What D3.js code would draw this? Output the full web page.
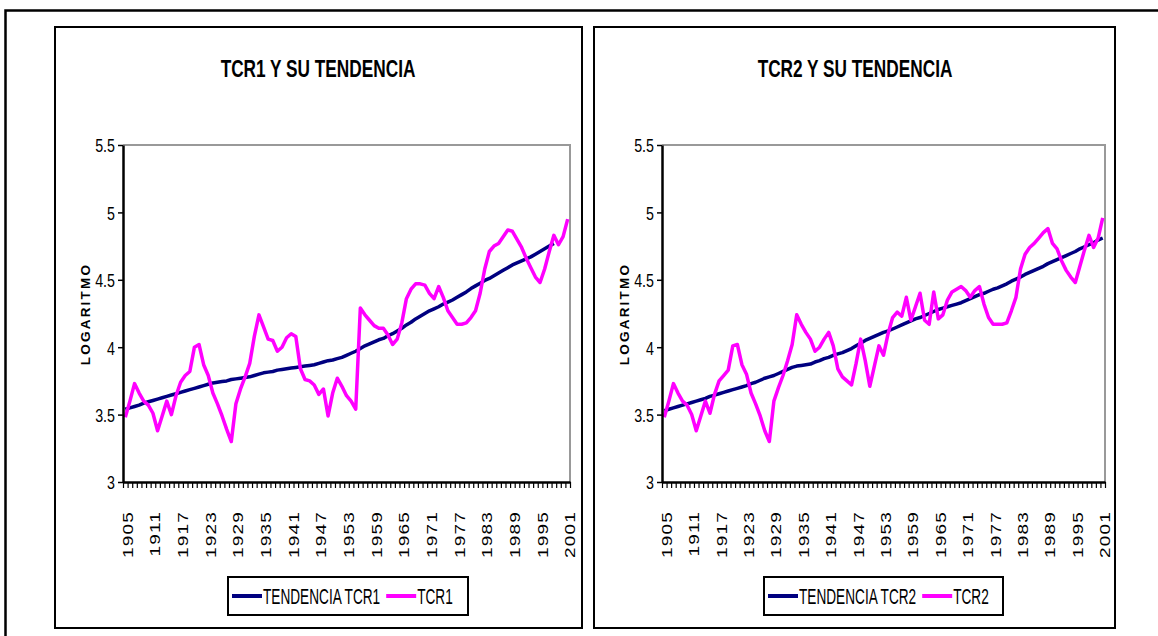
<!DOCTYPE html>
<html><head><meta charset="utf-8">
<script src="https://cdn.jsdelivr.net/npm/d3@7"></script>
<style>html,body{margin:0;padding:0;background:#fff;overflow:hidden}</style>
</head><body><svg id="c" width="1158" height="636"></svg>
<script>
const years = d3.range(1905, 2002).map(String);
const xLabels = ["1905","1911","1917","1923","1929","1935","1941","1947","1953","1959","1965","1971","1977","1983","1989","1995","2001"];
const yTicks = [3, 3.5, 4, 4.5, 5, 5.5];

const tcr1 = [3.48,3.60,3.73,3.66,3.60,3.57,3.51,3.38,3.49,3.60,
 3.50,3.64,3.74,3.79,3.82,4.00,4.02,3.87,3.79,3.66,
 3.58,3.49,3.39,3.30,3.58,3.69,3.78,3.88,4.08,4.24,
 4.15,4.06,4.05,3.97,4.00,4.07,4.10,4.08,3.84,3.76,
 3.75,3.72,3.65,3.69,3.49,3.66,3.77,3.71,3.64,3.60,
 3.54,4.29,4.24,4.20,4.16,4.14,4.14,4.09,4.02,4.06,
 4.18,4.36,4.43,4.47,4.47,4.46,4.40,4.36,4.45,4.37,
 4.27,4.22,4.17,4.17,4.18,4.22,4.27,4.40,4.58,4.71,
 4.75,4.77,4.82,4.87,4.86,4.80,4.74,4.66,4.59,4.52,
 4.48,4.58,4.71,4.83,4.76,4.82,4.95];

const trend1 = [3.54,3.55,3.56,3.57,3.585,3.595,3.605,3.615,3.625,3.635,
 3.645,3.655,3.665,3.675,3.685,3.695,3.705,3.715,3.725,3.735,
 3.74,3.745,3.75,3.76,3.765,3.77,3.775,3.78,3.79,3.80,
 3.81,3.815,3.82,3.83,3.835,3.84,3.845,3.85,3.855,3.86,
 3.865,3.87,3.88,3.89,3.90,3.905,3.915,3.925,3.94,3.955,
 3.97,3.99,4.01,4.025,4.04,4.055,4.065,4.085,4.10,4.12,
 4.14,4.165,4.185,4.21,4.23,4.25,4.27,4.285,4.30,4.32,
 4.335,4.35,4.37,4.39,4.41,4.435,4.455,4.475,4.495,4.51,
 4.53,4.55,4.57,4.59,4.61,4.625,4.64,4.655,4.67,4.69,
 4.71,4.73,4.75,4.77,null,null,null];

const tcr2 = [3.48,3.60,3.73,3.66,3.60,3.57,3.50,3.38,3.49,3.60,
 3.51,3.65,3.75,3.79,3.83,4.01,4.02,3.87,3.80,3.66,
 3.58,3.49,3.38,3.30,3.60,3.70,3.79,3.90,4.02,4.24,
 4.17,4.11,4.06,3.97,4.00,4.06,4.11,4.01,3.84,3.78,
 3.75,3.72,3.88,4.06,3.90,3.71,3.86,4.01,3.94,4.10,
 4.22,4.26,4.23,4.37,4.20,4.30,4.40,4.20,4.17,4.41,
 4.21,4.24,4.35,4.41,4.43,4.45,4.42,4.37,4.42,4.45,
 4.32,4.22,4.17,4.17,4.17,4.18,4.27,4.37,4.58,4.69,
 4.74,4.77,4.81,4.85,4.88,4.77,4.73,4.64,4.57,4.52,
 4.48,4.60,4.72,4.83,4.74,4.81,4.96];

const trend2 = [3.53,3.54,3.55,3.56,3.57,3.58,3.59,3.60,3.61,3.62,
 3.635,3.645,3.655,3.665,3.675,3.685,3.695,3.705,3.715,3.73,
 3.74,3.755,3.77,3.78,3.79,3.805,3.82,3.835,3.85,3.86,
 3.865,3.87,3.875,3.89,3.90,3.915,3.925,3.94,3.95,3.96,
 3.975,3.99,4.01,4.03,4.05,4.065,4.08,4.095,4.11,4.12,
 4.135,4.15,4.165,4.18,4.195,4.21,4.22,4.235,4.25,4.265,
 4.28,4.29,4.30,4.31,4.32,4.33,4.345,4.36,4.375,4.39,
 4.40,4.415,4.43,4.44,4.455,4.47,4.49,4.505,4.52,4.54,
 4.555,4.57,4.585,4.60,4.62,4.635,4.65,4.665,4.68,4.695,
 4.71,4.73,4.745,4.76,4.775,4.795,4.81];

const FONT = "'Liberation Sans', Arial, sans-serif";
const SX = 0.75;
const NAVY = "#000080", MAG = "#FF00FF";

const svg = d3.select("#c");
// outer frame
svg.append("rect").attr("x",5.5).attr("y",10.5).attr("width",1300).attr("height",800)
  .attr("fill","none").attr("stroke","#000").attr("stroke-width",2.5);

function chart(cfg) {
  const g = svg.append("g");
  g.append("rect").attr("x",cfg.box[0]).attr("y",cfg.box[1]).attr("width",cfg.box[2]).attr("height",cfg.box[3])
    .attr("fill","#fff").attr("stroke","#000").attr("stroke-width",2);

  const x0 = cfg.plot[0], x1 = cfg.plot[1], yT = 145, yB = 482;
  const x = d3.scaleBand().domain(years).range([x0, x1]);
  const xi = d3.scaleLinear().domain([0, years.length]).range([x0, x1]);
  const y = d3.scaleLinear().domain([3, 5.5]).range([yB, yT]);
  const px = d => x(d) + x.bandwidth()/2;

  // title
  g.append("text").attr("transform",`translate(${cfg.titleX},77) scale(${SX},1)`)
    .attr("text-anchor","middle").attr("font-family",FONT).attr("font-weight","bold")
    .attr("font-size",23).text(cfg.title);

  // plot border (gray top & right)
  g.append("path").attr("d",`M${x0},${yT}H${x1}V${yB}`).attr("fill","none")
    .attr("stroke","#999").attr("stroke-width",2);

  // series lines
  const line = d3.line().defined(d => d[1] != null).x(d => px(d[0])).y(d => y(d[1]));
  g.append("path").datum(years.map((yr,i)=>[yr, cfg.trend[i]])).attr("d",line)
    .attr("fill","none").attr("stroke",NAVY).attr("stroke-width",3.5).attr("stroke-linejoin","round");
  g.append("path").datum(years.map((yr,i)=>[yr, cfg.series[i]])).attr("d",line)
    .attr("fill","none").attr("stroke",MAG).attr("stroke-width",3.5).attr("stroke-linejoin","round");

  // y axis
  const ya = g.append("g").attr("transform",`translate(${x0},0)`)
    .call(d3.axisLeft(y).tickValues(yTicks).tickSize(5).tickSizeOuter(0).tickFormat(d3.format("")));
  ya.select(".domain").attr("stroke-width",2.5);
  ya.selectAll(".tick line").attr("stroke-width",1.5);
  ya.selectAll(".tick text").attr("font-family",FONT).attr("font-size",19).attr("fill","#000")
    .attr("x",-8/SX).attr("dy","0.36em").attr("transform",`scale(${SX},1)`);

  // x axis ticks between categories
  const xa = g.append("g").attr("transform",`translate(0,${yB})`)
    .call(d3.axisBottom(xi).tickValues(d3.range(0, years.length+1)).tickSize(6).tickSizeOuter(0).tickFormat(""));
  xa.select(".domain").attr("stroke-width",2.5);
  xa.selectAll(".tick line").attr("stroke-width",1.2);

  // x labels
  const xl = g.append("g").attr("transform",`translate(2,511)`)
    .call(d3.axisBottom(x).tickValues(xLabels).tickSize(0));
  xl.select(".domain").remove();
  xl.selectAll(".tick text").attr("font-family",FONT).attr("font-size",19).attr("fill","#000")
    .attr("letter-spacing",1.2)
    .attr("x",0).attr("y",0).attr("dy","0.36em").attr("text-anchor","end")
    .attr("transform",`scale(0.8,1) rotate(-90)`);

  // y axis title
  g.append("text").attr("transform",`translate(${cfg.yLabX},314) rotate(-90)`)
    .attr("text-anchor","middle").attr("font-family",FONT).attr("font-weight","bold")
    .attr("font-size",13.5).attr("letter-spacing",2.2).attr("dy","0.36em").text("LOGARITMO");

  // legend
  const L = cfg.legend;
  const lg = g.append("g").attr("transform",`translate(${L[0]},${L[1]})`);
  lg.append("rect").attr("x",0).attr("y",0).attr("width",L[2]).attr("height",38)
    .attr("fill","#fff").attr("stroke","#000").attr("stroke-width",2);
  const items = [{name: cfg.trendName, color: NAVY}, {name: cfg.seriesName, color: MAG}];
  let cx = 4;
  items.forEach(it => {
    lg.append("line").attr("x1",cx).attr("x2",cx+30).attr("y1",19).attr("y2",19)
      .attr("stroke",it.color).attr("stroke-width",4);
    const t = lg.append("text").attr("transform",`translate(${cx+31},26.5) scale(0.62,1)`)
      .attr("font-family",FONT).attr("font-size",22).text(it.name);
    cx += 31 + t.node().getComputedTextLength()*0.62 + 6;
  });
}

chart({box:[55,27,527,601], plot:[123,570], titleX:318, title:"TCR1 Y SU TENDENCIA",
  series:tcr1, trend:trend1, seriesName:"TCR1", trendName:"TENDENCIA TCR1",
  yLabX:85, legend:[228,577,240]});
chart({box:[594,27,521,601], plot:[662,1105], titleX:855, title:"TCR2 Y SU TENDENCIA",
  series:tcr2, trend:trend2, seriesName:"TCR2", trendName:"TENDENCIA TCR2",
  yLabX:624, legend:[764,577,239]});
</script></body></html>
